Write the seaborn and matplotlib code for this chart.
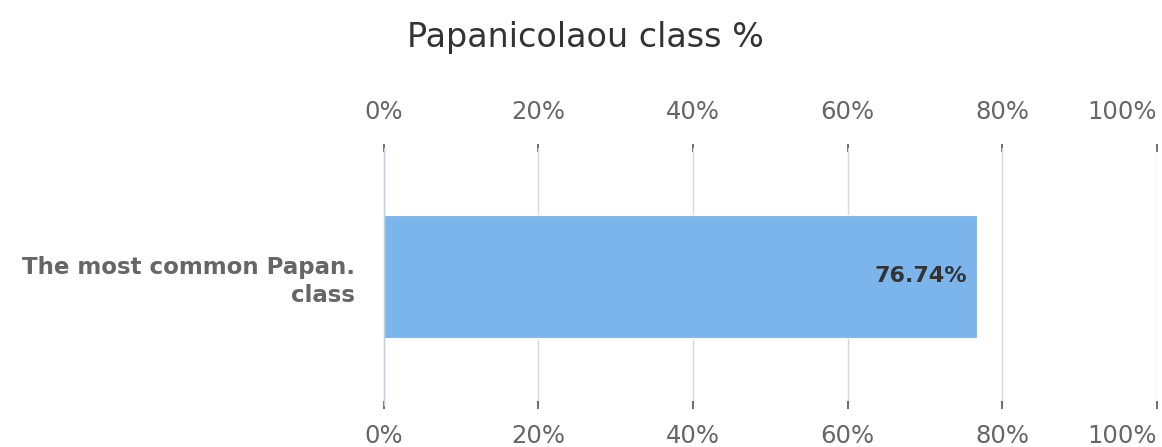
import pandas as pd
import seaborn as sns
import matplotlib.pyplot as plt
from matplotlib.ticker import PercentFormatter

# Chart data
categories = ['The most common Papan.\nclass']
values = [76.74]
x_ticks = [0, 20, 40, 60, 80, 100]

df = pd.DataFrame({'Category': categories, 'Percent': values})

sns.set_theme(style='white')
plt.rcParams['font.family'] = ['DejaVu Sans']

fig = plt.figure(figsize=(11.62, 4.47), dpi=100)
ax = fig.add_axes([0.3303, 0.094, 0.6652, 0.575])

sns.barplot(data=df, x='Percent', y='Category', orient='h', color='#7cb5ec',
            width=0.475, edgecolor='#ffffff', linewidth=0.8, saturation=1, ax=ax)

ax.set_xlim(0, 100)
ax.set_ylim(0.5, -0.5)
ax.set_xticks(x_ticks)
ax.xaxis.set_major_formatter(PercentFormatter(decimals=0))
ax.grid(axis='x', color='#d8d8d8', linewidth=1)
ax.set_axisbelow(True)

for side in ['top', 'right', 'bottom']:
    ax.spines[side].set_visible(False)
ax.spines['left'].set_color('#c0d0e0')
ax.spines['left'].set_linewidth(1)

# bottom axis labels
ax.tick_params(axis='x', bottom=True, direction='inout', length=6, width=1.2, color='#555555',
               labelcolor='#666666', labelsize=17.5, pad=11)

# top axis labels, same ticks
top = ax.secondary_xaxis('top')
top.set_xticks(x_ticks)
top.xaxis.set_major_formatter(PercentFormatter(decimals=0))
top.spines['top'].set_visible(False)
top.tick_params(axis='x', top=True, direction='inout', length=6, width=1.2, color='#555555',
                labelcolor='#666666', labelsize=17.5, pad=14)

# keep the 100% labels inside the figure
fig.canvas.draw()
for a in (ax, top):
    labels = a.get_xticklabels()
    labels[-1].set_horizontalalignment('right')

ax.tick_params(axis='y', length=0, labelcolor='#666666', labelsize=16.5, pad=21)
for lbl in ax.get_yticklabels():
    lbl.set_fontweight('bold')
    lbl.set_horizontalalignment('right')
    lbl.set_multialignment('right')
    lbl.set_linespacing(1.3)

ax.set_xlabel('')
ax.set_ylabel('')

# Value label inside the bar end
for bar, v in zip(ax.patches, values):
    ax.annotate(f'{v:.2f}%', xy=(bar.get_width(), bar.get_y() + bar.get_height() / 2),
                xytext=(-7, 0), textcoords='offset points', ha='right', va='center',
                fontsize=16, fontweight='bold', color='#333333')

fig.text(0.504, 0.917, 'Papanicolaou class %', ha='center', va='center',
         fontsize=24, color='#333333')

fig.savefig('out.png', dpi=100)
